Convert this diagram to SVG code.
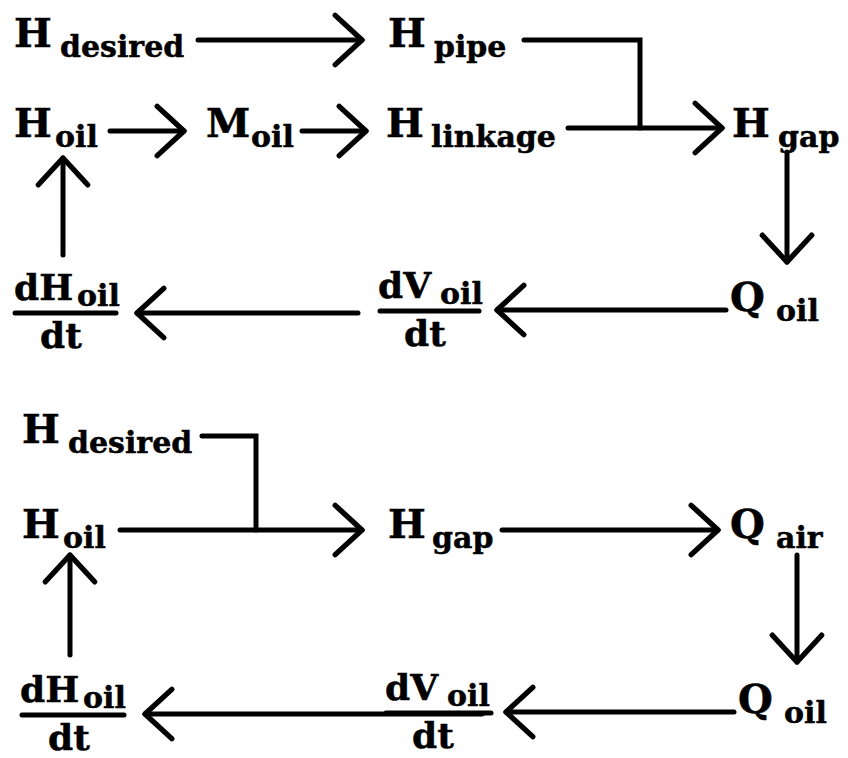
<svg xmlns="http://www.w3.org/2000/svg" width="848" height="758" viewBox="0 0 848 758">
  <style>
    .t { font-family: "DejaVu Serif", "Liberation Serif", serif; font-weight: bold; font-size: 36px; fill: #000; stroke: #000; stroke-width: 0.5; }
    .b { font-size: 40px; }
    .s { font-size: 30px; }
    .ln { fill: none; stroke: #000; stroke-width: 5; stroke-linecap: round; stroke-linejoin: miter; }
    .bar { stroke: #000; stroke-width: 5; stroke-linecap: round; }
  </style>
  <defs>
    <marker id="head" markerUnits="userSpaceOnUse" markerWidth="60" markerHeight="60" viewBox="-30 -28 34 56" refX="0" refY="0" orient="auto" overflow="visible">
      <path d="M-25,-23 L0,0 L-25,23" fill="none" stroke="#000" stroke-width="5" stroke-linecap="round" stroke-linejoin="round"/>
    </marker>
  </defs>
  <rect width="848" height="758" fill="#fff"/>

  <!-- upper loop -->
  <g id="a-hdesired"><text class="t b" x="14" y="47">H<tspan class="s" x="60" y="57">desired</tspan></text></g>
  <g id="a-hpipe"><text class="t b" x="388" y="47">H<tspan class="s" x="434" y="57">pipe</tspan></text></g>
  <g id="a-hoil"><text class="t b" x="14" y="137">H<tspan class="s" x="55" y="147">oil</tspan></text></g>
  <g id="a-moil"><text class="t b" x="206" y="137">M<tspan class="s" x="251" y="147">oil</tspan></text></g>
  <g id="a-hlinkage"><text class="t b" x="386" y="137">H<tspan class="s" x="431" y="147">linkage</tspan></text></g>
  <g id="a-hgap"><text class="t b" x="732" y="137">H<tspan class="s" x="778" y="147">gap</tspan></text></g>
  <g id="a-qoil"><text class="t b" x="730" y="311">Q<tspan class="s" x="776" y="321">oil</tspan></text></g>
  <g id="a-dvoil">
    <text class="t" x="378" y="298">dV<tspan class="s" x="440" y="304">oil</tspan></text>
    <line class="bar" x1="380" y1="311" x2="479" y2="311"/>
    <text class="t" x="404" y="346">dt</text>
  </g>
  <g id="a-dhoil">
    <text class="t" x="14" y="300">dH<tspan class="s" x="77" y="306">oil</tspan></text>
    <line class="bar" x1="15" y1="313" x2="116" y2="313"/>
    <text class="t" x="40" y="348">dt</text>
  </g>

  <!-- lower loop -->
  <g id="b-hdesired"><text class="t b" x="22" y="443">H<tspan class="s" x="68" y="453">desired</tspan></text></g>
  <g id="b-hoil"><text class="t b" x="22" y="538">H<tspan class="s" x="63" y="548">oil</tspan></text></g>
  <g id="b-hgap"><text class="t b" x="388" y="538">H<tspan class="s" x="432" y="548">gap</tspan></text></g>
  <g id="b-qair"><text class="t b" x="730" y="538">Q<tspan class="s" x="776" y="548">air</tspan></text></g>
  <g id="b-qoil"><text class="t b" x="738" y="713">Q<tspan class="s" x="784" y="723">oil</tspan></text></g>
  <g id="b-dvoil">
    <text class="t" x="385" y="700">dV<tspan class="s" x="447" y="706">oil</tspan></text>
    <line class="bar" x1="386" y1="713" x2="491" y2="713"/>
    <text class="t" x="412" y="748">dt</text>
  </g>
  <g id="b-dhoil">
    <text class="t" x="20" y="702">dH<tspan class="s" x="83" y="708">oil</tspan></text>
    <line class="bar" x1="22" y1="715" x2="124" y2="715"/>
    <text class="t" x="48" y="750">dt</text>
  </g>

  <g id="connectors">
    <!-- upper loop -->
    <line class="ln" x1="198" y1="40" x2="362" y2="40" marker-end="url(#head)"/>
    <line class="ln" x1="110" y1="131" x2="184" y2="131" marker-end="url(#head)"/>
    <line class="ln" x1="302" y1="131" x2="366" y2="131" marker-end="url(#head)"/>
    <polyline class="ln" points="524,40 640,40 640,128"/>
    <line class="ln" x1="568" y1="128" x2="722" y2="128" marker-end="url(#head)"/>
    <line class="ln" x1="787" y1="152" x2="787" y2="262" marker-end="url(#head)"/>
    <line class="ln" x1="726" y1="310" x2="497" y2="310" marker-end="url(#head)"/>
    <line class="ln" x1="358" y1="313" x2="137" y2="313" marker-end="url(#head)"/>
    <line class="ln" x1="63" y1="255" x2="63" y2="158" marker-end="url(#head)"/>
    <!-- lower loop -->
    <polyline class="ln" points="202,436 256,436 256,530"/>
    <line class="ln" x1="120" y1="530" x2="362" y2="530" marker-end="url(#head)"/>
    <line class="ln" x1="502" y1="530" x2="718" y2="530" marker-end="url(#head)"/>
    <line class="ln" x1="797" y1="555" x2="797" y2="662" marker-end="url(#head)"/>
    <line class="ln" x1="734" y1="712" x2="506" y2="712" marker-end="url(#head)"/>
    <line class="ln" x1="482" y1="714" x2="145" y2="714" marker-end="url(#head)"/>
    <line class="ln" x1="70" y1="655" x2="70" y2="555" marker-end="url(#head)"/>
  </g>
</svg>
